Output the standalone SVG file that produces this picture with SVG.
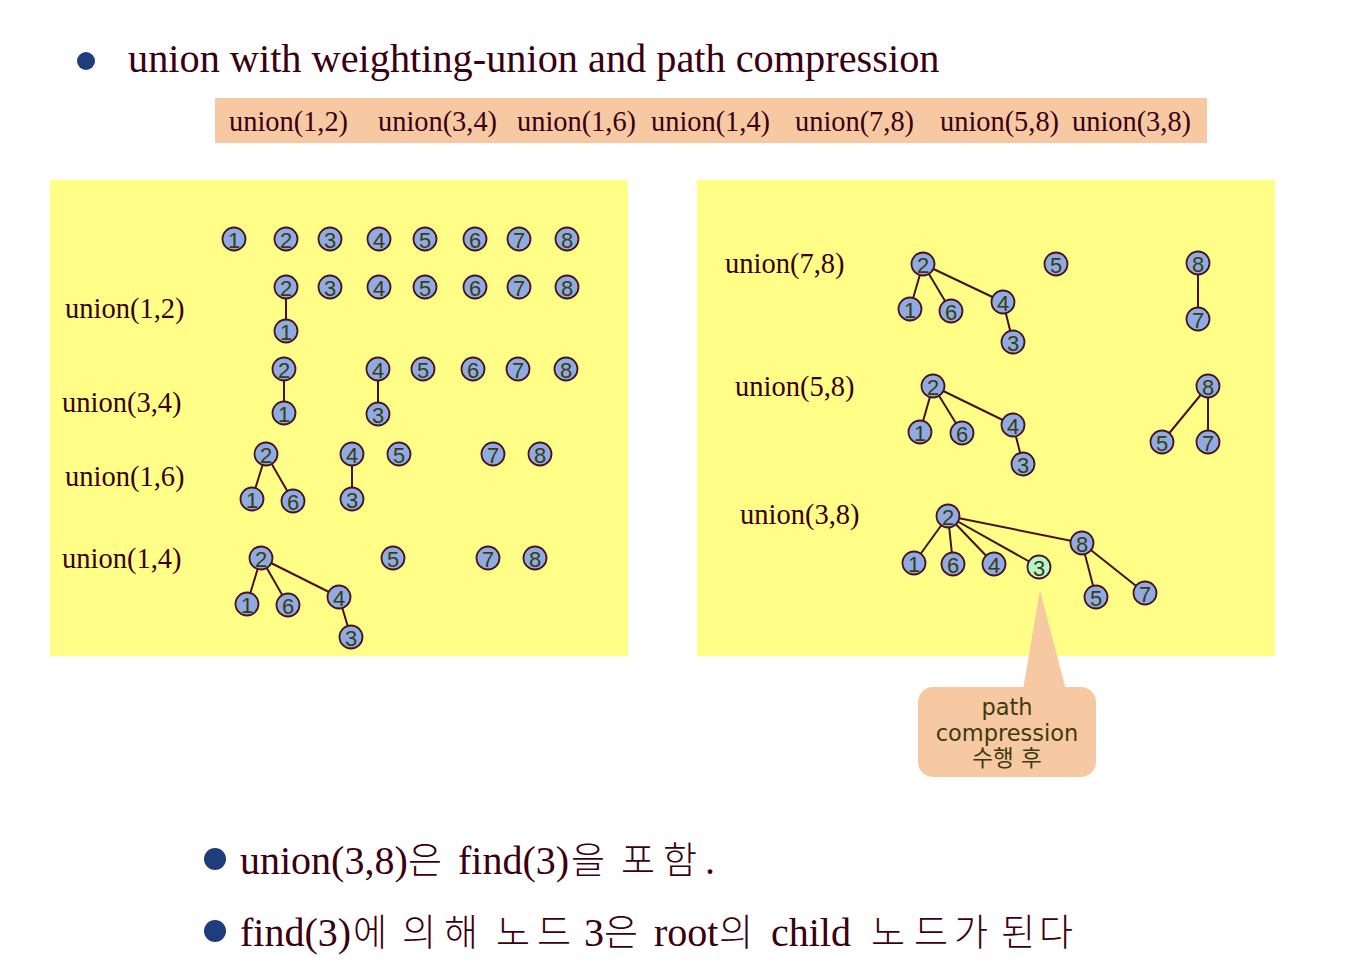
<svg xmlns="http://www.w3.org/2000/svg" width="1358" height="976" viewBox="0 0 1358 976">
<style>
.n circle{fill:#8EACE2;stroke:#4a1020;stroke-width:1.8}
.n text{font-family:"Liberation Sans Narrow","Liberation Sans",sans-serif;font-size:22px;fill:#3e3a10;text-anchor:middle}
.g circle{fill:#B4F5CC}
.e line{stroke:#4a1020;stroke-width:2}
.t{font-family:"Liberation Serif","Noto Sans CJK KR",serif;fill:#3a0012}
.bar{font-size:28.4px}
.lab{font-size:28.5px}
.k{font-family:"Liberation Serif","Noto Sans CJK KR",serif;font-size:40px;fill:#3a0012}
.kr{font-family:"Noto Sans CJK KR",sans-serif;font-weight:300;font-size:37px}
.cal{font-family:"DejaVu Sans","Noto Sans CJK KR",sans-serif;font-size:22.5px;fill:#3e3a10;text-anchor:middle}
</style>
<rect width="1358" height="976" fill="#ffffff"/>

<!-- title -->
<g id="title">
<circle cx="86" cy="61" r="9" fill="#1F3C7C"/>
<text class="t" x="128" y="72" font-size="40.3">union with weighting-union and path compression</text>
</g>

<!-- header bar -->
<g id="header">
<rect x="215" y="98" width="992" height="45" fill="#F6C9A2"/>
<text class="t bar" x="229" y="131">union(1,2)</text>
<text class="t bar" x="378" y="131">union(3,4)</text>
<text class="t bar" x="517" y="131">union(1,6)</text>
<text class="t bar" x="651" y="131">union(1,4)</text>
<text class="t bar" x="795" y="131">union(7,8)</text>
<text class="t bar" x="940" y="131">union(5,8)</text>
<text class="t bar" x="1072" y="131">union(3,8)</text>
</g>

<!-- panels -->
<rect id="panel-left" x="50" y="180" width="578" height="476" fill="#FFFF88"/>
<rect id="panel-right" x="697" y="180" width="578" height="476" fill="#FFFF88"/>

<g id="labels">
<text class="t lab" x="65" y="318">union(1,2)</text>
<text class="t lab" x="62" y="412">union(3,4)</text>
<text class="t lab" x="65" y="486">union(1,6)</text>
<text class="t lab" x="62" y="568">union(1,4)</text>
<text class="t lab" x="725" y="273">union(7,8)</text>
<text class="t lab" x="735" y="396">union(5,8)</text>
<text class="t lab" x="740" y="524">union(3,8)</text>
</g>

<!-- callout -->
<g id="callout">
<polygon points="1040,590 1023,690 1066,690" fill="#F6C9A2"/>
<rect x="918" y="687" width="178" height="90" rx="15" fill="#F6C9A2"/>
<text class="cal" x="1007" y="715">path</text>
<text class="cal" x="1007" y="741">compression</text>
<text class="cal" x="1007" y="766">수행 후</text>
</g>

<!-- connectors -->
<g id="connectors" class="e">
<line x1="286" y1="287" x2="286" y2="331"/>
<line x1="284" y1="369" x2="284" y2="413"/>
<line x1="378" y1="369" x2="378" y2="414"/>
<line x1="266" y1="454" x2="252" y2="499"/>
<line x1="266" y1="454" x2="293" y2="501"/>
<line x1="352" y1="454" x2="352" y2="499"/>
<line x1="261" y1="558" x2="247" y2="604"/>
<line x1="261" y1="558" x2="288" y2="605"/>
<line x1="261" y1="558" x2="339" y2="597"/>
<line x1="339" y1="597" x2="351" y2="637"/>
<line x1="923" y1="264" x2="910" y2="309"/>
<line x1="923" y1="264" x2="951" y2="311"/>
<line x1="923" y1="264" x2="1003" y2="302"/>
<line x1="1003" y1="302" x2="1013" y2="342"/>
<line x1="1198" y1="263" x2="1198" y2="319"/>
<line x1="933" y1="386" x2="920" y2="432"/>
<line x1="933" y1="386" x2="962" y2="433"/>
<line x1="933" y1="386" x2="1013" y2="425"/>
<line x1="1013" y1="425" x2="1023" y2="464"/>
<line x1="1208" y1="386" x2="1162" y2="442"/>
<line x1="1208" y1="386" x2="1208" y2="442"/>
<line x1="948" y1="516" x2="914" y2="563"/>
<line x1="948" y1="516" x2="953" y2="564"/>
<line x1="948" y1="516" x2="994" y2="564"/>
<line x1="948" y1="516" x2="1039" y2="567"/>
<line x1="948" y1="516" x2="1082" y2="543"/>
<line x1="1082" y1="543" x2="1096" y2="597"/>
<line x1="1082" y1="543" x2="1145" y2="593"/>
</g>

<!-- row 0 -->
<g id="r0n1" class="n"><circle cx="234" cy="239" r="11.5"/><text x="234" y="248">1</text></g>
<g id="r0n2" class="n"><circle cx="286" cy="239" r="11.5"/><text x="286" y="248">2</text></g>
<g id="r0n3" class="n"><circle cx="330" cy="239" r="11.5"/><text x="330" y="248">3</text></g>
<g id="r0n4" class="n"><circle cx="379" cy="239" r="11.5"/><text x="379" y="248">4</text></g>
<g id="r0n5" class="n"><circle cx="425" cy="239" r="11.5"/><text x="425" y="248">5</text></g>
<g id="r0n6" class="n"><circle cx="475" cy="239" r="11.5"/><text x="475" y="248">6</text></g>
<g id="r0n7" class="n"><circle cx="519" cy="239" r="11.5"/><text x="519" y="248">7</text></g>
<g id="r0n8" class="n"><circle cx="567" cy="239" r="11.5"/><text x="567" y="248">8</text></g>

<!-- union(1,2) -->
<g id="r1n2" class="n"><circle cx="286" cy="287" r="11.5"/><text x="286" y="296">2</text></g>
<g id="r1n1" class="n"><circle cx="286" cy="331" r="11.5"/><text x="286" y="340">1</text></g>
<g id="r1n3" class="n"><circle cx="330" cy="287" r="11.5"/><text x="330" y="296">3</text></g>
<g id="r1n4" class="n"><circle cx="379" cy="287" r="11.5"/><text x="379" y="296">4</text></g>
<g id="r1n5" class="n"><circle cx="425" cy="287" r="11.5"/><text x="425" y="296">5</text></g>
<g id="r1n6" class="n"><circle cx="475" cy="287" r="11.5"/><text x="475" y="296">6</text></g>
<g id="r1n7" class="n"><circle cx="519" cy="287" r="11.5"/><text x="519" y="296">7</text></g>
<g id="r1n8" class="n"><circle cx="567" cy="287" r="11.5"/><text x="567" y="296">8</text></g>

<!-- union(3,4) -->
<g id="r2n2" class="n"><circle cx="284" cy="369" r="11.5"/><text x="284" y="378">2</text></g>
<g id="r2n1" class="n"><circle cx="284" cy="413" r="11.5"/><text x="284" y="422">1</text></g>
<g id="r2n4" class="n"><circle cx="378" cy="369" r="11.5"/><text x="378" y="378">4</text></g>
<g id="r2n3" class="n"><circle cx="378" cy="414" r="11.5"/><text x="378" y="423">3</text></g>
<g id="r2n5" class="n"><circle cx="423" cy="369" r="11.5"/><text x="423" y="378">5</text></g>
<g id="r2n6" class="n"><circle cx="473" cy="369" r="11.5"/><text x="473" y="378">6</text></g>
<g id="r2n7" class="n"><circle cx="518" cy="369" r="11.5"/><text x="518" y="378">7</text></g>
<g id="r2n8" class="n"><circle cx="566" cy="369" r="11.5"/><text x="566" y="378">8</text></g>

<!-- union(1,6) -->
<g id="r3n2" class="n"><circle cx="266" cy="454" r="11.5"/><text x="266" y="463">2</text></g>
<g id="r3n1" class="n"><circle cx="252" cy="499" r="11.5"/><text x="252" y="508">1</text></g>
<g id="r3n6" class="n"><circle cx="293" cy="501" r="11.5"/><text x="293" y="510">6</text></g>
<g id="r3n4" class="n"><circle cx="352" cy="454" r="11.5"/><text x="352" y="463">4</text></g>
<g id="r3n3" class="n"><circle cx="352" cy="499" r="11.5"/><text x="352" y="508">3</text></g>
<g id="r3n5" class="n"><circle cx="399" cy="454" r="11.5"/><text x="399" y="463">5</text></g>
<g id="r3n7" class="n"><circle cx="493" cy="454" r="11.5"/><text x="493" y="463">7</text></g>
<g id="r3n8" class="n"><circle cx="540" cy="454" r="11.5"/><text x="540" y="463">8</text></g>

<!-- union(1,4) -->
<g id="r4n2" class="n"><circle cx="261" cy="558" r="11.5"/><text x="261" y="567">2</text></g>
<g id="r4n1" class="n"><circle cx="247" cy="604" r="11.5"/><text x="247" y="613">1</text></g>
<g id="r4n6" class="n"><circle cx="288" cy="605" r="11.5"/><text x="288" y="614">6</text></g>
<g id="r4n4" class="n"><circle cx="339" cy="597" r="11.5"/><text x="339" y="606">4</text></g>
<g id="r4n3" class="n"><circle cx="351" cy="637" r="11.5"/><text x="351" y="646">3</text></g>
<g id="r4n5" class="n"><circle cx="393" cy="558" r="11.5"/><text x="393" y="567">5</text></g>
<g id="r4n7" class="n"><circle cx="488" cy="558" r="11.5"/><text x="488" y="567">7</text></g>
<g id="r4n8" class="n"><circle cx="535" cy="558" r="11.5"/><text x="535" y="567">8</text></g>

<!-- union(7,8) -->
<g id="r5n2" class="n"><circle cx="923" cy="264" r="11.5"/><text x="923" y="273">2</text></g>
<g id="r5n1" class="n"><circle cx="910" cy="309" r="11.5"/><text x="910" y="318">1</text></g>
<g id="r5n6" class="n"><circle cx="951" cy="311" r="11.5"/><text x="951" y="320">6</text></g>
<g id="r5n4" class="n"><circle cx="1003" cy="302" r="11.5"/><text x="1003" y="311">4</text></g>
<g id="r5n3" class="n"><circle cx="1013" cy="342" r="11.5"/><text x="1013" y="351">3</text></g>
<g id="r5n5" class="n"><circle cx="1056" cy="264" r="11.5"/><text x="1056" y="273">5</text></g>
<g id="r5n8" class="n"><circle cx="1198" cy="263" r="11.5"/><text x="1198" y="272">8</text></g>
<g id="r5n7" class="n"><circle cx="1198" cy="319" r="11.5"/><text x="1198" y="328">7</text></g>

<!-- union(5,8) -->
<g id="r6n2" class="n"><circle cx="933" cy="386" r="11.5"/><text x="933" y="395">2</text></g>
<g id="r6n1" class="n"><circle cx="920" cy="432" r="11.5"/><text x="920" y="441">1</text></g>
<g id="r6n6" class="n"><circle cx="962" cy="433" r="11.5"/><text x="962" y="442">6</text></g>
<g id="r6n4" class="n"><circle cx="1013" cy="425" r="11.5"/><text x="1013" y="434">4</text></g>
<g id="r6n3" class="n"><circle cx="1023" cy="464" r="11.5"/><text x="1023" y="473">3</text></g>
<g id="r6n8" class="n"><circle cx="1208" cy="386" r="11.5"/><text x="1208" y="395">8</text></g>
<g id="r6n5" class="n"><circle cx="1162" cy="442" r="11.5"/><text x="1162" y="451">5</text></g>
<g id="r6n7" class="n"><circle cx="1208" cy="442" r="11.5"/><text x="1208" y="451">7</text></g>

<!-- union(3,8) -->
<g id="r7n2" class="n"><circle cx="948" cy="516" r="11.5"/><text x="948" y="525">2</text></g>
<g id="r7n1" class="n"><circle cx="914" cy="563" r="11.5"/><text x="914" y="572">1</text></g>
<g id="r7n6" class="n"><circle cx="953" cy="564" r="11.5"/><text x="953" y="573">6</text></g>
<g id="r7n4" class="n"><circle cx="994" cy="564" r="11.5"/><text x="994" y="573">4</text></g>
<g id="r7n3" class="n g"><circle cx="1039" cy="567" r="11.5"/><text x="1039" y="576">3</text></g>
<g id="r7n8" class="n"><circle cx="1082" cy="543" r="11.5"/><text x="1082" y="552">8</text></g>
<g id="r7n5" class="n"><circle cx="1096" cy="597" r="11.5"/><text x="1096" y="606">5</text></g>
<g id="r7n7" class="n"><circle cx="1145" cy="593" r="11.5"/><text x="1145" y="602">7</text></g>

<!-- bottom bullets -->
<g id="bullet1">
<circle cx="215" cy="859" r="11" fill="#1F3C7C"/>
<text class="k" y="874"><tspan x="240">union(3,8)</tspan><tspan class="kr" x="408">은</tspan><tspan x="458">find(3)</tspan><tspan class="kr" x="571">을</tspan><tspan class="kr" x="621">포</tspan><tspan class="kr" x="663">함</tspan><tspan x="705">.</tspan></text>
</g>
<g id="bullet2">
<circle cx="215" cy="931" r="11" fill="#1F3C7C"/>
<text class="k" y="946"><tspan x="240">find(3)</tspan><tspan class="kr" x="353">에</tspan><tspan class="kr" x="402">의</tspan><tspan class="kr" x="444">해</tspan><tspan class="kr" x="496">노</tspan><tspan class="kr" x="537">드</tspan><tspan x="584">3</tspan><tspan class="kr" x="604">은</tspan><tspan x="654">root</tspan><tspan class="kr" x="719">의</tspan><tspan x="771">child</tspan><tspan class="kr" x="871">노</tspan><tspan class="kr" x="914">드</tspan><tspan class="kr" x="954">가</tspan><tspan class="kr" x="1001">된</tspan><tspan class="kr" x="1039">다</tspan></text>
</g>
</svg>
